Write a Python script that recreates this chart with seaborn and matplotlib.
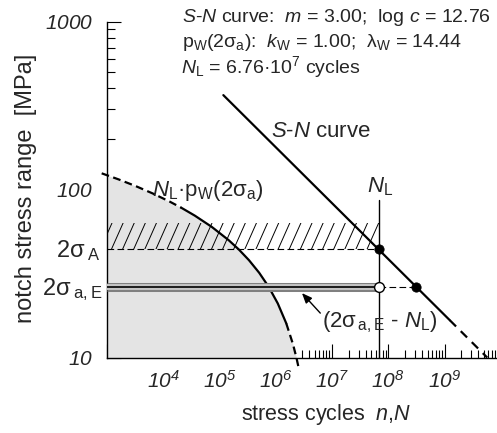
import numpy as np
import matplotlib
matplotlib.use("Agg")
import matplotlib.pyplot as plt
import matplotlib.hatch as mhatch
from matplotlib.path import Path
from matplotlib.ticker import LogLocator, NullFormatter
import seaborn as sns

# ---------------- data ----------------
m_slope = 3.00
log_c = 12.76
k_w = 1.00
lambda_w = 14.44
N_L = 6.76e7

# S-N curve (solid part and dashed continuation)
sn_solid_N = [1.18e5, 1.24e9]
sn_solid_S = [365.0, 16.7]
sn_dash_N = [1.24e9, 5.75e9]
sn_dash_S = [16.7, 10.0]

# N_L * p_W(2 sigma_a) curve, read point by point
pw_upper_S = [125.0, 115.0, 105.0, 95.0, 85.0, 78.0]
pw_upper_N = [814.0, 1629.0, 3258.0, 6504.0, 13005.0, 21100.0]
pw_mid_S = [78.0, 70.0, 60.0, 50.0, 44.0, 38.0, 32.0, 26.4, 21.0, 16.0]
pw_mid_N = [21100.0, 36710.0, 73420.0, 146700.0, 222400.0, 336700.0,
            510400.0, 752400.0, 1.0937e6, 1.5457e6]
pw_lower_S = [16.0, 12.0, 10.0, 8.8]
pw_lower_N = [1.5457e6, 2.039e6, 2.342e6, 2.545e6]

fill_S = pw_upper_S + pw_mid_S[1:] + pw_lower_S[1:]
fill_N = pw_upper_N + pw_mid_N[1:] + pw_lower_N[1:]

S_A = 44.0          # 2 sigma_A
S_A_top = 63.5      # top of hatched band
S_aE = 26.4         # 2 sigma_a,E
N_E = 3.127e8       # S-N life at 2 sigma_a,E
S_NL_top = 87.0     # top of N_L marker line
N_min, N_max = 1e3, 1e10
S_min, S_max = 10.0, 1000.0

x_major = [1e3, 1e4, 1e5, 1e6, 1e7, 1e8, 1e9, 1e10]
x_labels = ["", r"$\mathsf{10^{4}}$", r"$\mathsf{10^{5}}$", r"$\mathsf{10^{6}}$",
            r"$\mathsf{10^{7}}$", r"$\mathsf{10^{8}}$", r"$\mathsf{10^{9}}$", ""]
y_major = [10, 100, 1000]
y_labels = [r"$\mathsf{10}$", r"$\mathsf{100}$", r"$\mathsf{1000}$"]


# steeper "/" hatch, like the reference
class SteepHatch(mhatch.HatchPatternBase):
    def __init__(self, hatch, density):
        self.num_lines = 9 if hatch.count("/") else 0
        self.num_vertices = (2 * self.num_lines + 1) * 2 if self.num_lines else 0

    def set_vertices_and_codes(self, vertices, codes):
        n = self.num_lines
        x0 = np.arange(-n, n + 1) / n
        vertices[0::2, 0] = x0
        vertices[0::2, 1] = 0.0
        vertices[1::2, 0] = x0 + 4.0 / n
        vertices[1::2, 1] = 1.0
        codes[0::2] = Path.MOVETO
        codes[1::2] = Path.LINETO


mhatch._hatch_types[mhatch._hatch_types.index(mhatch.NorthEastHatch)] = SteepHatch

# ---------------- style ----------------
sns.set_style("ticks")
plt.rcParams["font.family"] = ["Liberation Sans", "DejaVu Sans"]
plt.rcParams["mathtext.fontset"] = "custom"
plt.rcParams["mathtext.rm"] = "Liberation Sans"
plt.rcParams["mathtext.it"] = "Liberation Sans:italic"
plt.rcParams["mathtext.sf"] = "Liberation Sans:italic"
plt.rcParams["mathtext.bf"] = "Liberation Sans:bold"
plt.rcParams["hatch.linewidth"] = 0.7
plt.rcParams["hatch.color"] = "black"

W, H = 497, 433
fig = plt.figure(figsize=(W / 100, H / 100), dpi=100)
ax = fig.add_axes([106.7 / W, (H - 357.6) / H, 394.1 / W, 336.0 / H])
ax.set_xscale("log")
ax.set_yscale("log")
ax.set_xlim(N_min, N_max)
ax.set_ylim(S_min, S_max)

# grey area under the probability curve
ax.fill_betweenx(fill_S, N_min, fill_N, color="#e4e4e4", lw=0, zorder=1)

# hatched band
ax.fill_between([N_min, N_L], S_A, S_A_top, facecolor="none", edgecolor="black",
                hatch="//", lw=0, zorder=2)
sns.lineplot(x=[N_min, N_L], y=[S_A, S_A], ax=ax, color="black", lw=0.8,
             linestyle=(0, (6, 3)), estimator=None, sort=False, zorder=3)

# N_L vertical line
sns.lineplot(x=[N_L, N_L], y=[S_min, S_NL_top], ax=ax, color="black", lw=1.0,
             estimator=None, sort=False, zorder=3)

# S-N curve
sns.lineplot(x=sn_solid_N, y=sn_solid_S, ax=ax, color="black", lw=1.6,
             estimator=None, sort=False, zorder=4)
sns.lineplot(x=sn_dash_N, y=sn_dash_S, ax=ax, color="black", lw=1.6,
             linestyle=(0, (4, 3)), estimator=None, sort=False, zorder=4,
             clip_on=False)

# probability curve
sns.lineplot(x=pw_upper_N, y=pw_upper_S, ax=ax, color="black", lw=1.6,
             linestyle=(0, (3.5, 2)), estimator=None, sort=False, zorder=4,
             clip_on=False)
sns.lineplot(x=pw_mid_N, y=pw_mid_S, ax=ax, color="black", lw=1.6,
             estimator=None, sort=False, zorder=4)
sns.lineplot(x=pw_lower_N, y=pw_lower_S, ax=ax, color="black", lw=1.6,
             linestyle=(0, (3.5, 2)), estimator=None, sort=False, zorder=4,
             clip_on=False)

# 2 sigma_a,E tube
sns.lineplot(x=[N_min, N_L], y=[S_aE, S_aE], ax=ax, color="#808080", lw=6.5,
             estimator=None, sort=False, zorder=5, solid_capstyle="butt")
sns.lineplot(x=[N_min, N_L], y=[S_aE, S_aE], ax=ax, color="#c4c4c4", lw=4.3,
             estimator=None, sort=False, zorder=5, solid_capstyle="butt")
sns.lineplot(x=[N_min, N_L], y=[S_aE, S_aE], ax=ax, color="black", lw=1.2,
             estimator=None, sort=False, zorder=5, solid_capstyle="butt")
sns.lineplot(x=[N_L, N_E], y=[S_aE, S_aE], ax=ax, color="black", lw=0.8,
             linestyle=(0, (6, 3)), estimator=None, sort=False, zorder=5)

# points
sns.scatterplot(x=[N_L, N_E], y=[S_A, S_aE], ax=ax, color="black", s=45,
                edgecolor="black", zorder=6)
sns.scatterplot(x=[N_L], y=[S_aE], ax=ax, color="white", s=50,
                edgecolor="black", linewidth=1.0, zorder=7)

# arrow
ax.annotate("", xy=(2.94e6, 24.2), xytext=(6.22e6, 18.4),
            arrowprops=dict(arrowstyle="-|>,head_length=0.6,head_width=0.25",
                            color="black", lw=1.0, shrinkA=0, shrinkB=0),
            zorder=8)

# ---------------- axes ----------------
sns.despine(ax=ax)
for s in ("left", "bottom"):
    ax.spines[s].set_linewidth(1.0)
    ax.spines[s].set_color("black")
ax.set_xticks(x_major)
ax.set_xticklabels(x_labels)
ax.set_yticks(y_major)
ax.set_yticklabels(y_labels)
ax.xaxis.set_minor_locator(LogLocator(base=10, subs=range(2, 10), numticks=20))
ax.yaxis.set_minor_locator(LogLocator(base=10, subs=range(2, 10), numticks=20))
ax.xaxis.set_minor_formatter(NullFormatter())
ax.yaxis.set_minor_formatter(NullFormatter())
ax.tick_params(which="both", direction="in", color="black", width=0.8)
ax.tick_params(which="major", length=10)
ax.tick_params(which="minor", length=6)
ax.tick_params(axis="x", which="major", labelsize=15, pad=9)
ax.tick_params(axis="y", which="major", labelsize=15, pad=10)

# ---------------- texts ----------------
fs_big = 16
ax.text(8.4e5, 205.6, r"$S$-$N$ curve", fontsize=fs_big, ha="left", va="baseline")
ax.text(6.38e3, 91.6, r"$N_\mathrm{L}\mathrm{·p}_\mathrm{W}(2\mathrm{σ}_\mathrm{a})$",
        fontsize=fs_big, ha="left", va="baseline")
ax.text(N_L * 1.05, 96.8, r"$N_\mathrm{L}$", fontsize=fs_big, ha="center", va="baseline")
ax.text(6.74e6, 15.2, r"$(2\mathrm{σ}_{\,\mathrm{a,E}}$ - $N_\mathrm{L})$",
        fontsize=fs_big, ha="left", va="baseline")
ax.text(775, 39.7, r"$2\mathrm{σ}_{\;\mathrm{A}}$", fontsize=17, ha="right",
        va="baseline", clip_on=False)
ax.text(836, 23.6, r"$2\mathrm{σ}_{\;\mathrm{a,E}}$", fontsize=17, ha="right",
        va="baseline", clip_on=False)

fs_top = 14
fig.text(182 / W, 1 - 21.7 / H,
         r"$S$-$N$ curve:  $m$ = 3.00;  log $c$ = 12.76",
         fontsize=fs_top, ha="left", va="baseline")
fig.text(182 / W, 1 - 46.7 / H,
         r"$\mathrm{p_W}(2\mathrm{σ}_\mathrm{a})$:  $k_\mathrm{W}$ = 1.00;  $\mathrm{λ}_\mathrm{W}$ = 14.44",
         fontsize=fs_top, ha="left", va="baseline")
fig.text(181 / W, 1 - 73.3 / H,
         r"$N_\mathrm{L}$ = 6.76·10$^{7}$ cycles",
         fontsize=fs_top, ha="left", va="baseline")

fig.text(26 / W, 1 - 188 / H, "notch stress range  [MPa]", fontsize=17,
         rotation=90, ha="center", va="center")
fig.text(326.5 / W, 1 - 420 / H, r"$\mathrm{stress\ cycles}\ \ n{,}N$", fontsize=15.5,
         ha="center", va="baseline")

fig.savefig("out.png", dpi=100)
